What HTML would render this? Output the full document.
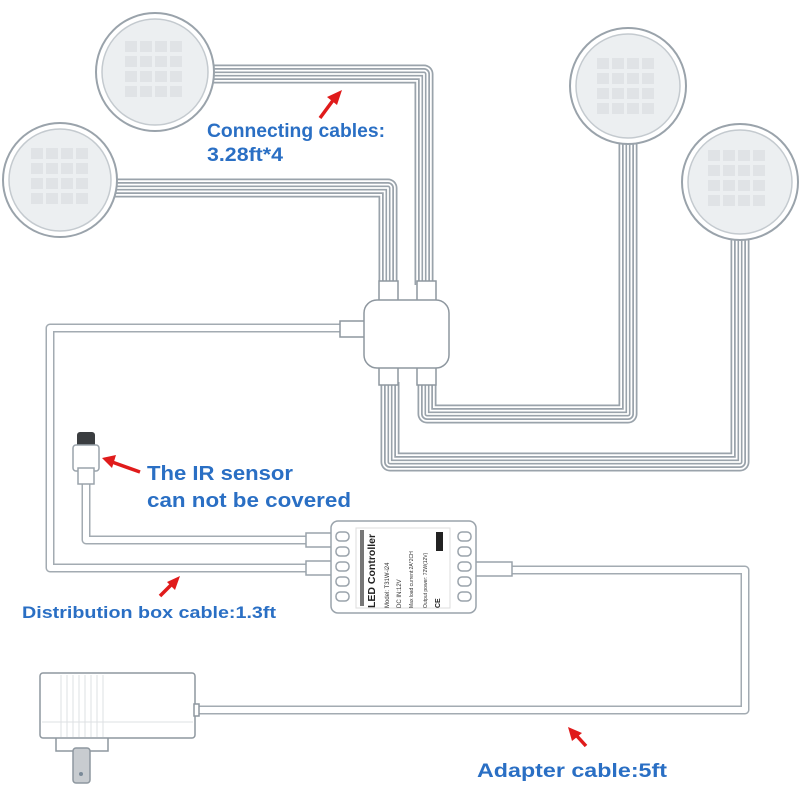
<!DOCTYPE html>
<html><head><meta charset="utf-8"><style>
html,body{margin:0;padding:0;background:#fff;}
svg{display:block;}
text{font-family:"Liberation Sans",sans-serif;font-weight:bold;fill:#2a6fc4;}
</style></head><body>
<svg width="800" height="800" viewBox="0 0 800 800" xmlns="http://www.w3.org/2000/svg">
<defs>
<g id="grid" fill="#e0e3e6">
<rect x="0" y="0" width="12" height="11"/><rect x="15" y="0" width="12" height="11"/><rect x="30" y="0" width="12" height="11"/><rect x="45" y="0" width="12" height="11"/>
<rect x="0" y="15" width="12" height="11"/><rect x="15" y="15" width="12" height="11"/><rect x="30" y="15" width="12" height="11"/><rect x="45" y="15" width="12" height="11"/>
<rect x="0" y="30" width="12" height="11"/><rect x="15" y="30" width="12" height="11"/><rect x="30" y="30" width="12" height="11"/><rect x="45" y="30" width="12" height="11"/>
<rect x="0" y="45" width="12" height="11"/><rect x="15" y="45" width="12" height="11"/><rect x="30" y="45" width="12" height="11"/><rect x="45" y="45" width="12" height="11"/>
</g>
</defs>
<g fill="none" stroke-linejoin="round">
<g id="cables">
<path d="M210 74 H424 V285"/>
<path d="M112 188 H388 V285"/>
<path d="M628 140 V414 H427 V382"/>
<path d="M740 236 V462 H390 V382"/>
</g>
</g>
<g fill="none" stroke-linejoin="round">
<use href="#cables" stroke="#9aa3ab" stroke-width="19"/>
<use href="#cables" stroke="#fff" stroke-width="15.5"/>
<use href="#cables" stroke="#9aa3ab" stroke-width="12"/>
<use href="#cables" stroke="#fff" stroke-width="8.5"/>
<use href="#cables" stroke="#9aa3ab" stroke-width="5"/>
<use href="#cables" stroke="#fff" stroke-width="1.8"/>
</g>
<g fill="none" stroke-linejoin="round" id="c2">
<path d="M345 328 H50 V568 H320"/>
<path d="M86 480 V540 H320"/>
<path d="M500 570 H745 V710 H198"/>
</g>
<g fill="none" stroke-linejoin="round">
<use href="#c2" stroke="#a3abb2" stroke-width="9"/>
<use href="#c2" stroke="#fff" stroke-width="6"/>
</g>
<g stroke="#9aa3ab" stroke-width="2">
<circle cx="155" cy="72" r="59" fill="#fff"/>
<circle cx="155" cy="72" r="53" fill="#eceff1" stroke="#c4cacf" stroke-width="1.5"/>
<circle cx="60" cy="180" r="57" fill="#fff"/>
<circle cx="60" cy="180" r="51" fill="#eceff1" stroke="#c4cacf" stroke-width="1.5"/>
<circle cx="628" cy="86" r="58" fill="#fff"/>
<circle cx="628" cy="86" r="52" fill="#eceff1" stroke="#c4cacf" stroke-width="1.5"/>
<circle cx="740" cy="182" r="58" fill="#fff"/>
<circle cx="740" cy="182" r="52" fill="#eceff1" stroke="#c4cacf" stroke-width="1.5"/>
</g>
<use href="#grid" x="125" y="41"/>
<use href="#grid" x="31" y="148"/>
<use href="#grid" x="597" y="58"/>
<use href="#grid" x="708" y="150"/>
<g stroke="#8e979f" stroke-width="1.5" fill="#fff">
<rect x="379" y="281" width="19" height="22"/>
<rect x="417" y="281" width="19" height="22"/>
<rect x="379" y="364" width="19" height="21"/>
<rect x="417" y="364" width="19" height="21"/>
<rect x="340" y="321" width="26" height="16"/>
<rect x="364" y="300" width="85" height="68" rx="13"/>
</g>
<rect x="77" y="432" width="18" height="16" rx="3" fill="#3a3d40"/>
<rect x="73" y="445" width="26" height="26" rx="3" fill="#fff" stroke="#9aa3ab" stroke-width="1.5"/>
<rect x="78" y="468" width="16" height="16" fill="#fff" stroke="#9aa3ab" stroke-width="1.5"/>
<g stroke="#9aa3ab" stroke-width="1.5" fill="#fff">
<rect x="306" y="533" width="26" height="14"/>
<rect x="306" y="561" width="26" height="14"/>
<rect x="468" y="562" width="44" height="14"/>
<rect x="331" y="521" width="145" height="92" rx="7"/>
<rect x="336" y="532" width="13" height="9" rx="4"/><rect x="336" y="547" width="13" height="9" rx="4"/><rect x="336" y="562" width="13" height="9" rx="4"/><rect x="336" y="577" width="13" height="9" rx="4"/><rect x="336" y="592" width="13" height="9" rx="4"/>
<rect x="458" y="532" width="13" height="9" rx="4"/><rect x="458" y="547" width="13" height="9" rx="4"/><rect x="458" y="562" width="13" height="9" rx="4"/><rect x="458" y="577" width="13" height="9" rx="4"/><rect x="458" y="592" width="13" height="9" rx="4"/>
</g>
<rect x="356" y="528" width="94" height="80" fill="#fff" stroke="#ddd" stroke-width="1"/>
<rect x="360" y="530" width="4" height="76" fill="#777"/>
<g transform="translate(375,608) rotate(-90)" style="font-family:'Liberation Sans',sans-serif;">
<text x="0" y="0" style="fill:#222;font-size:10.5px;">LED Controller</text>
<text x="0" y="14" style="fill:#333;font-size:6px;font-weight:normal">Model: T31W-i24</text>
<text x="0" y="26" style="fill:#333;font-size:6px;font-weight:normal">DC IN:12V</text>
<text x="0" y="38" style="fill:#333;font-size:5px;font-weight:normal">Max load current:2A*2CH</text>
<text x="0" y="52" style="fill:#333;font-size:5px;font-weight:normal">Output power: 72W(12V)</text>
<text x="0" y="65" style="fill:#222;font-size:7px;">CE</text>
</g>
<rect x="436" y="532" width="7" height="19" fill="#222"/>
<g stroke="#8e979f" stroke-width="1.5" fill="#fff">
<rect x="56" y="734" width="52" height="17"/>
<rect x="73" y="748" width="17" height="35" rx="3" fill="#c8ccd0"/>
<rect x="40" y="673" width="155" height="65" rx="3"/>
<rect x="194" y="704" width="5" height="12"/>
</g>
<circle cx="81" cy="774" r="2" fill="#7a8a98"/>
<g stroke="#dde0e3" stroke-width="1">
<line x1="61" y1="675" x2="61" y2="737"/><line x1="67" y1="675" x2="67" y2="737"/><line x1="73" y1="675" x2="73" y2="737"/><line x1="79" y1="675" x2="79" y2="737"/><line x1="85" y1="675" x2="85" y2="737"/><line x1="91" y1="675" x2="91" y2="737"/><line x1="97" y1="675" x2="97" y2="737"/><line x1="103" y1="675" x2="103" y2="737"/>
<line x1="42" y1="722" x2="193" y2="722"/>
</g>
<g stroke="#e01b1b" stroke-width="3.5" fill="#e01b1b">
<line x1="320" y1="118" x2="334" y2="99"/>
<polygon points="342,90 327,97 337,105" stroke="none"/>
<line x1="140" y1="472" x2="112" y2="462"/>
<polygon points="102,458 116,455 112,468" stroke="none"/>
<line x1="160" y1="596" x2="172" y2="584"/>
<polygon points="180,576 167,582 175,590" stroke="none"/>
<line x1="586" y1="746" x2="576" y2="735"/>
<polygon points="568,727 572,741 582,733" stroke="none"/>
</g>
<text x="207" y="137" font-size="19" textLength="178" lengthAdjust="spacingAndGlyphs">Connecting cables:</text>
<text x="207" y="161" font-size="19" textLength="76" lengthAdjust="spacingAndGlyphs">3.28ft*4</text>
<text x="147" y="480" font-size="20.5" textLength="146" lengthAdjust="spacingAndGlyphs">The IR sensor</text>
<text x="147" y="507" font-size="20.5" textLength="204" lengthAdjust="spacingAndGlyphs">can not be covered</text>
<text x="22" y="618" font-size="16.5" textLength="254" lengthAdjust="spacingAndGlyphs">Distribution box cable:1.3ft</text>
<text x="477" y="777" font-size="19.5" textLength="190" lengthAdjust="spacingAndGlyphs">Adapter cable:5ft</text>
</svg>
</body></html>
